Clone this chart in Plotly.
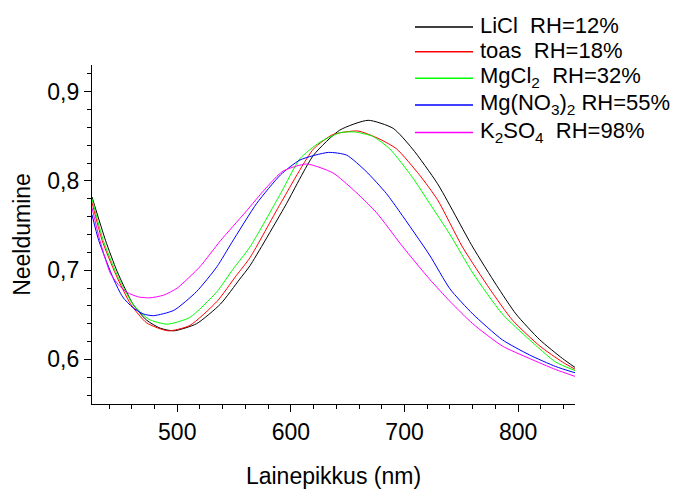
import plotly.graph_objects as go

# ---- data ----
x_licl = [425, 437, 447, 461, 473, 485, 497, 517, 538, 555, 564, 595, 620, 643, 668, 690, 707, 729, 760, 781, 798, 819, 839, 850]
y_licl = [0.782, 0.733, 0.699, 0.662, 0.644, 0.635, 0.632, 0.640, 0.662, 0.690, 0.705, 0.772, 0.829, 0.857, 0.868, 0.859, 0.836, 0.797, 0.726, 0.683, 0.651, 0.622, 0.601, 0.591]

x_toas = [425, 434, 446, 459, 473, 492, 511, 535, 552, 564, 591, 620, 637, 659, 678, 693, 713, 729, 751, 775, 795, 819, 839, 850]
y_toas = [0.776, 0.733, 0.695, 0.662, 0.641, 0.632, 0.638, 0.665, 0.694, 0.714, 0.775, 0.836, 0.852, 0.856, 0.847, 0.836, 0.807, 0.779, 0.726, 0.679, 0.644, 0.615, 0.597, 0.589]

x_mgcl2 = [425, 435, 447, 461, 475, 491, 511, 535, 549, 564, 591, 608, 625, 643, 656, 672, 687, 707, 722, 740, 760, 786, 810, 833, 850]
y_mgcl2 = [0.780, 0.733, 0.695, 0.662, 0.645, 0.6395, 0.647, 0.676, 0.701, 0.726, 0.786, 0.825, 0.843, 0.854, 0.855, 0.850, 0.836, 0.804, 0.775, 0.740, 0.697, 0.651, 0.622, 0.597, 0.5875]

x_mgno3 = [425, 431, 444, 452, 461, 470, 479, 497, 517, 535, 548, 570, 591, 608, 633, 649, 666, 684, 696, 722, 740, 760, 786, 810, 833, 850]
y_mgno3 = [0.762, 0.733, 0.690, 0.670, 0.658, 0.651, 0.649, 0.655, 0.676, 0.704, 0.731, 0.775, 0.807, 0.8235, 0.832, 0.829, 0.811, 0.786, 0.765, 0.717, 0.679, 0.651, 0.622, 0.605, 0.592, 0.585]

x_k2so4 = [425, 432, 441, 448, 456, 466, 476, 488, 500, 520, 538, 560, 578, 593, 614, 637, 655, 675, 698, 722, 740, 760, 786, 810, 833, 850]
y_k2so4 = [0.770, 0.733, 0.697, 0.684, 0.675, 0.670, 0.669, 0.672, 0.680, 0.704, 0.733, 0.765, 0.792, 0.811, 0.819, 0.809, 0.790, 0.765, 0.727, 0.690, 0.665, 0.640, 0.615, 0.601, 0.5886, 0.581]

series_names = ["LiCl\u00a0\u00a0RH=12%",
                "toas\u00a0\u00a0RH=18%",
                "MgCl<sub>2</sub>\u00a0\u00a0RH=32%",
                "Mg(NO<sub>3</sub>)<sub>2</sub>\u00a0RH=55%",
                "K<sub>2</sub>SO<sub>4</sub>\u00a0\u00a0RH=98%"]
series_colors = ["#000000", "#FF0000", "#00FF00", "#0000FF", "#FF00FF"]
series_x = [x_licl, x_toas, x_mgcl2, x_mgno3, x_k2so4]
series_y = [y_licl, y_toas, y_mgcl2, y_mgno3, y_k2so4]

x_range = [425, 850]
y_range = [0.55, 0.93]
x_ticks = [500, 600, 700, 800]
y_ticks = [0.6, 0.7, 0.8, 0.9]

FONT = "Liberation Sans, Arial, sans-serif"

# plot area in pixels
W, H = 675, 497
L, R, T, B = 92, 100, 65, 76
PW = W - L - R
PH = H - T - B

def px2paper(px, py):
    return (px - L) / PW, (H - B - py) / PH

fig = go.Figure()
for xs, ys, nm, col in zip(series_x, series_y, series_names, series_colors):
    fig.add_trace(go.Scatter(x=xs, y=ys, mode="lines", name=nm,
                             line=dict(color=col, width=1, shape="spline", smoothing=0.6),
                             showlegend=False))

# manual legend (line samples + text)
legend_rows_py = [25, 51, 79, 107, 136]
for py, nm, col in zip(legend_rows_py, series_names, series_colors):
    x0, y0 = px2paper(415, py)
    x1, _ = px2paper(473, py)
    fig.add_shape(type="line", xref="paper", yref="paper", x0=x0, x1=x1, y0=y0, y1=y0,
                  line=dict(color=col, width=1.5))
    tx, ty = px2paper(478, py - 1)
    fig.add_annotation(xref="paper", yref="paper", x=tx, y=ty, xanchor="left", yanchor="middle",
                       text=nm, showarrow=False, font=dict(family=FONT, size=22, color="black"))

axis_common = dict(showline=True, linecolor="black", linewidth=1.3, showgrid=False, zeroline=False,
                   ticks="outside", ticklen=7, tickwidth=1.3, tickcolor="black",
                   tickfont=dict(family=FONT, size=23, color="black"), mirror=False)

fig.update_xaxes(range=x_range, tickvals=x_ticks,
                 minor=dict(dtick=20, tick0=0, ticks="outside", ticklen=4, tickwidth=1.2, tickcolor="black"),
                 title=dict(text="Lainepikkus (nm)", font=dict(family=FONT, size=23, color="black"), standoff=24),
                 **axis_common)
fig.update_yaxes(range=y_range, tickvals=y_ticks, tickformat=".1f",
                 minor=dict(dtick=0.02, tick0=0, ticks="outside", ticklen=4, tickwidth=1.2, tickcolor="black"),
                 title=dict(text="Neeldumine", font=dict(family=FONT, size=23, color="black"), standoff=10),
                 **axis_common)

fig.update_layout(width=W, height=H, margin=dict(l=L, r=R, t=T, b=B, pad=0),
                  plot_bgcolor="white", paper_bgcolor="white", separators=", ",
                  font=dict(family=FONT, color="black"))

fig.write_html("out.html")
